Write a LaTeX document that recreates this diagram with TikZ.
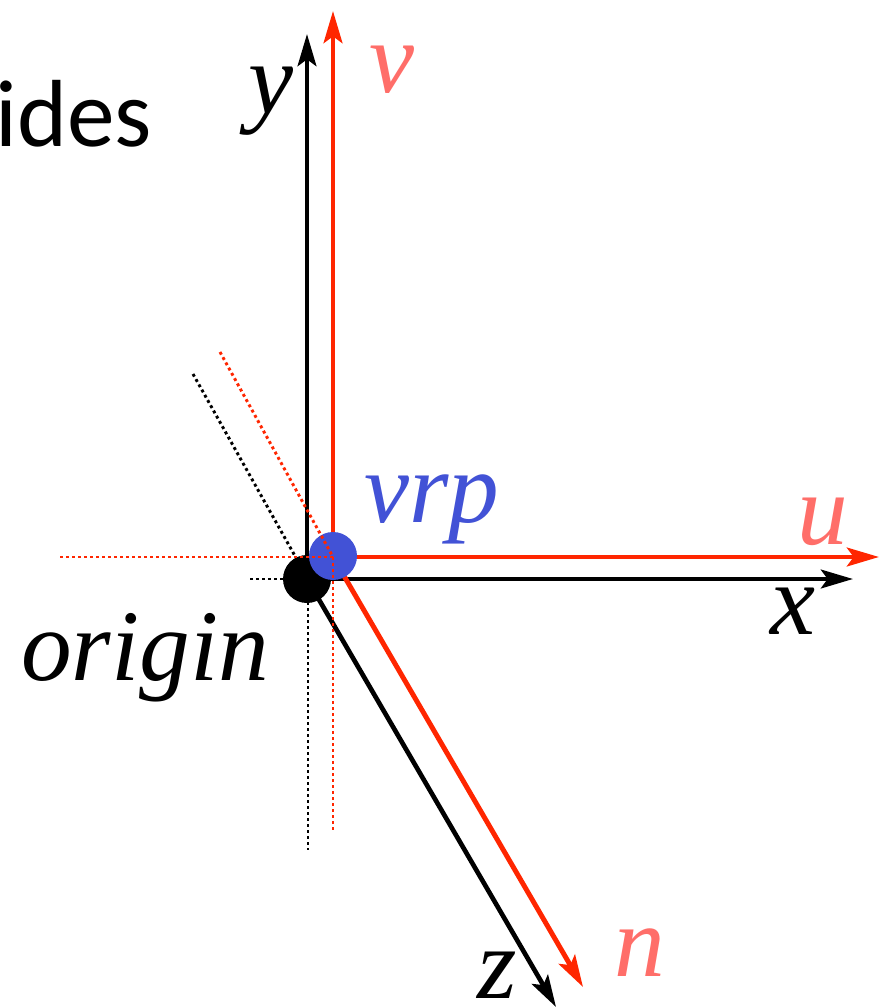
\documentclass[tikz,border=0pt]{standalone}
\usepackage{fontspec}
\setmainfont{Liberation Serif}
\newfontfamily\gillish{Carlito}
\usetikzlibrary{arrows.meta}
\definecolor{axred}{RGB}{255,38,0}
\definecolor{lblred}{RGB}{255,110,105}
\definecolor{vrpblue}{RGB}{66,82,214}
\tikzset{
  x=0.75pt,y=-0.75pt,
  axis/.style={line width=3.7pt,-{Stealth[length=24pt,width=14pt,inset=5pt]}},
  axisthin/.style={line width=3.5pt,-{Stealth[length=24pt,width=14pt,inset=5pt]}},
  dots/.style={line width=2.2pt,dash pattern=on 2.2pt off 2.3pt},
  italiclabel/.style={inner sep=0pt,anchor=base west,font=\fontsize{76pt}{76pt}\selectfont\itshape},
  dot/.style={circle,inner sep=0pt,minimum size=36pt},
}
\begin{document}
\begin{tikzpicture}
\useasboundingbox (0,0) rectangle (882,1007);
\clip (0,0) rectangle (882,1007);
\fill[white] (0,0) rectangle (882,1007);
\coordinate (ytip) at (307,34);
\coordinate (vtip) at (333,11);
\coordinate (xtip) at (853,579);
\coordinate (utip) at (879,557);
\coordinate (ztip) at (556,1007);
\coordinate (ntip) at (583,987);
\coordinate (o) at (307,579);
\coordinate (w) at (333,557);
\coordinate (blh) at (250,579);
\coordinate (bld) at (193,374);
\coordinate (blend) at (295,556);
\coordinate (blvs) at (308,590);
\coordinate (blv) at (308,850);
\coordinate (rdh) at (60,557);
\coordinate (rdd) at (220,352);
\coordinate (rdv) at (333,830);
% black dotted
\draw[dots,black] (blh) -- (o);
\draw[dots,black] (bld) -- (blend);
\draw[dots,black] (blvs) -- (blv);
% black axes
\draw[axisthin,black] (o) -- (ytip);
\draw[axisthin,black] (o) -- (xtip);
\draw[axisthin,black] (o) -- (ztip);
\node[dot,fill=black] (origin) at (o) {};
% red axes
\draw[axis,axred] (w) -- (vtip);
\draw[axis,axred] (w) -- (utip);
\draw[axis,axred] (w) -- (ntip);
\node[dot,fill=vrpblue] (vrp) at (333,556) {};
% red dotted on top
\draw[dots,axred] (rdh) -- (w);
\draw[dots,axred] (rdd) -- (w);
\draw[dots,axred] (w) -- (rdv);
% labels
\node[inner sep=0pt,anchor=base west,font=\fontsize{71.5pt}{71.5pt}\selectfont\gillish] (t) at (-5,146) {ides};
\node[italiclabel,black] (ly) at (248,113) {y};
\node[italiclabel,lblred] (lv) at (369,92) {v};
\node[italiclabel,vrpblue] (lvrp) at (364,522) {vrp};
\node[italiclabel,lblred] (lu) at (797,544) {u};
\node[italiclabel,black] (lx) at (770,634) {x};
\node[italiclabel,black] (lo) at (21,680) {origin};
\node[italiclabel,black] (lz) at (477,998) {z};
\node[italiclabel,lblred] (ln) at (614,976) {n};
\end{tikzpicture}
\end{document}
